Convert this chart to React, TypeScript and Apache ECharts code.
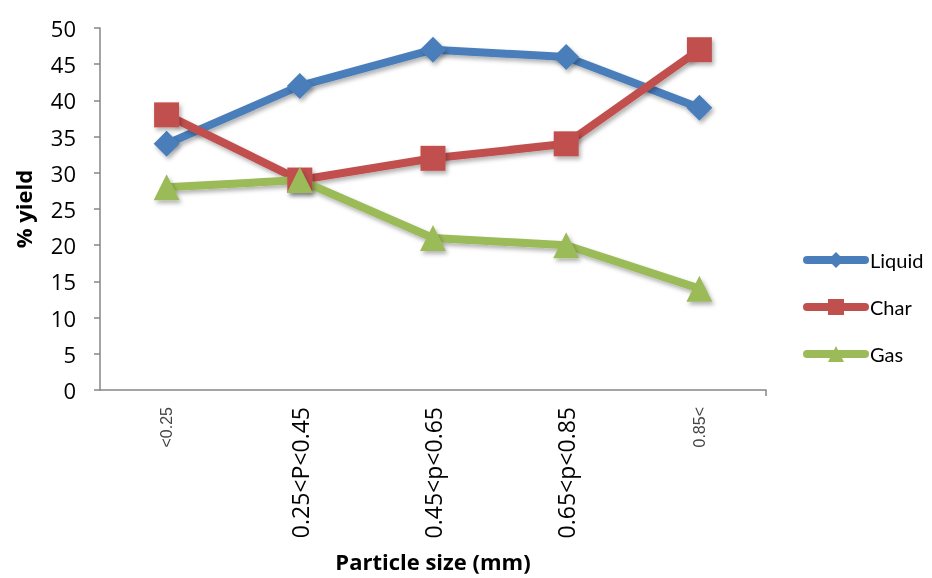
import React, { useEffect, useRef } from "react";
import * as echarts from "echarts";

const categories = ["<0.25", "0.25<P<0.45", "0.45<p<0.65", "0.65<p<0.85", "0.85<"];
const liquid = [34, 42, 47, 46, 39];
const charData = [38, 29, 32, 34, 47];
const gas = [28, 29, 21, 20, 14];
const smallLabelIdx = [0, 4];

const OPEN = "'Open Sans', sans-serif";
const LATO = "Lato, sans-serif";
const AXIS_COLOR = "#868686";

export default function App() {
  const ref = useRef<HTMLDivElement>(null);
  useEffect(() => {
    if (!ref.current) return;
    const chart = echarts.init(ref.current, null, { renderer: "svg" });
    const shadow = {
      shadowBlur: 4,
      shadowOffsetX: 2,
      shadowOffsetY: 3,
      shadowColor: "rgba(0,0,0,0.3)",
    };
    const mk = (name: string, data: number[], color: string, symbol: string, size: number) => ({
      name,
      type: "line",
      data,
      symbol,
      symbolSize: size,
      lineStyle: { color, width: 8, cap: "round", join: "round", ...shadow },
      itemStyle: { color, ...shadow },
      z: 2,
    });
    chart.setOption({
      animation: false,
      textStyle: { fontFamily: OPEN },
      grid: { left: 100, right: 166, top: 28, bottom: 188, containLabel: false, outerBoundsMode: "none" },
      legend: {
        orient: "vertical",
        left: 803,
        top: 250,
        itemWidth: 58,
        itemHeight: 20,
        itemGap: 27,
        padding: 0,
        lineStyle: { width: 8, cap: "round" },
        textStyle: { fontSize: 20, color: "#000", fontFamily: LATO },
        data: ["Liquid", "Char", "Gas"],
      },
      xAxis: {
        type: "category",
        data: categories,
        boundaryGap: true,
        axisLine: { lineStyle: { color: AXIS_COLOR, width: 1.5 } },
        axisTick: { alignWithLabel: true, length: 6, lineStyle: { color: AXIS_COLOR, width: 1.5 } },
        axisLabel: {
          rotate: 90,
          margin: 17,
          interval: 0,
          formatter: (v: string, i: number) =>
            smallLabelIdx.includes(i) ? `{s|${v}}` : `{b|${v}}`,
          rich: {
            s: { fontSize: 16, color: "#444", fontFamily: "'Liberation Sans', Arial, sans-serif" },
            b: { fontSize: 23, color: "#000", fontFamily: OPEN },
          },
        },
        name: "Particle size (mm)",
        nameLocation: "middle",
        nameGap: 160,
        nameTextStyle: { fontSize: 22, fontWeight: "bold", color: "#000", fontFamily: OPEN },
      },
      yAxis: {
        type: "value",
        min: 0,
        max: 50,
        interval: 5,
        splitLine: { show: false },
        axisLine: { show: true, lineStyle: { color: AXIS_COLOR, width: 1.5 } },
        axisTick: { show: true, length: 6, lineStyle: { color: AXIS_COLOR, width: 1.5 } },
        axisLabel: { fontSize: 22, color: "#000", margin: 24, fontFamily: OPEN },
        name: "% yield",
        nameLocation: "middle",
        nameRotate: 90,
        nameGap: 66,
        nameTextStyle: { fontSize: 22, fontWeight: "bold", color: "#000", fontFamily: OPEN },
      },
      graphic: [
        {
          type: "line",
          shape: { x1: 766, y1: 390, x2: 766, y2: 396 },
          style: { stroke: AXIS_COLOR, lineWidth: 1.5 },
        },
      ],
      series: [
        mk("Liquid", liquid, "#4A7EBB", "diamond", 26),
        mk("Char", charData, "#C0504D", "rect", 25),
        mk("Gas", gas, "#9BBB59", "triangle", 26),
      ],
    });
    return () => chart.dispose();
  }, []);
  return (
    <div
      ref={ref}
      style={{ position: "fixed", left: 0, top: 0, width: 932, height: 578 }}
    />
  );
}
